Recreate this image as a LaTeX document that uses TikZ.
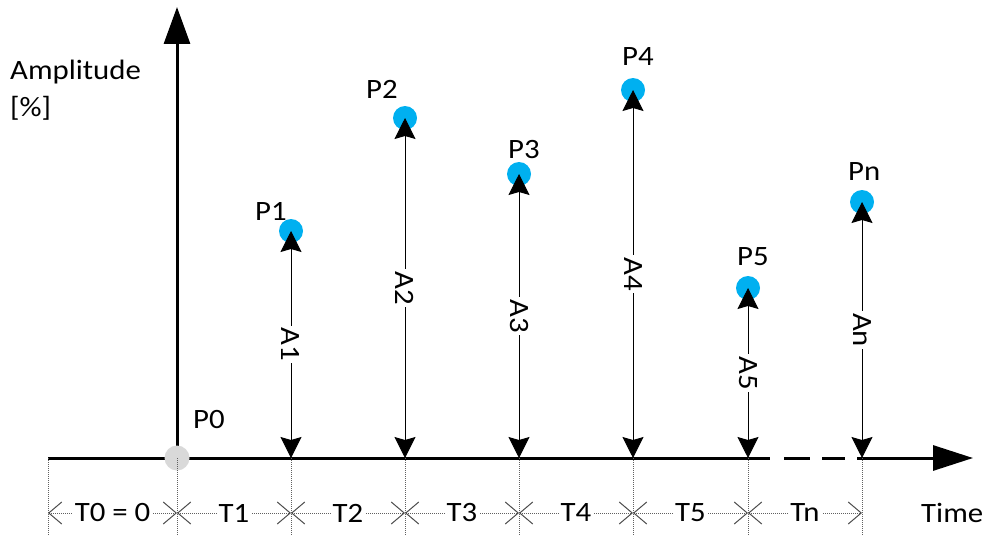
\documentclass[tikz,border=0pt]{standalone}
\usepackage{fontspec}
\setmainfont{Carlito}[FakeStretch=1.1]
\usetikzlibrary{arrows.meta}
\definecolor{pcyan}{HTML}{00B0F0}
\definecolor{pgray}{HTML}{D9D9D9}
\definecolor{guidegray}{HTML}{606060}
\begin{document}
\begin{tikzpicture}[x=1pt,y=-1pt,
  every node/.style={font=\fontsize{28}{33}\selectfont,text=black},
  lbl/.style={inner sep=0pt,anchor=base west},
  axisline/.style={line width=3pt,line cap=butt},
  pdot/.style={circle,fill=pcyan,minimum size=24pt,inner sep=0pt},
  zerodot/.style={circle,fill=pgray,minimum size=25pt,inner sep=0pt},
  ampl/.style={line width=1pt,{Stealth[length=21pt,width=21pt,inset=3pt]}-{Stealth[length=21pt,width=21pt,inset=3pt]}},
  alabel/.style={midway,rotate=-90,fill=white,inner sep=2pt},
  guide/.style={guidegray,line width=1pt,dash pattern=on 1pt off 1pt},
  dimline/.style={guidegray,line width=1pt,dash pattern=on 1pt off 1pt,
     {Straight Barb[length=13pt,width=22pt,line width=1pt,color=black!70]}-{Straight Barb[length=13pt,width=22pt,line width=1pt,color=black!70]}},
  tlabel/.style={midway,fill=white,inner sep=2pt,text=black}
]
\useasboundingbox (0,0) rectangle (985,535);

% base coordinates on the time axis
\coordinate (s) at (48,458);
\coordinate (b0) at (177,458);
\coordinate (b1) at (291,458);
\coordinate (b2) at (405,458);
\coordinate (b3) at (519,458);
\coordinate (b4) at (633,458);
\coordinate (b5) at (748,458);
\coordinate (bn) at (862,458);
\coordinate (solidend) at (770,458);
\coordinate (d1a) at (784,458);
\coordinate (d1b) at (810,458);
\coordinate (d2a) at (822,458);
\coordinate (d2b) at (845,458);
\coordinate (resume) at (857,458);
\coordinate (tend) at (973,458);
\coordinate (ytop) at (177,7);

% axes
\draw[axisline] (s) -- (solidend);
\draw[axisline] (d1a) -- (d1b);
\draw[axisline] (d2a) -- (d2b);
\draw[axisline,-{Triangle[length=40pt,width=25pt]}] (resume) -- (tend);
\draw[axisline,-{Triangle[length=37pt,width=26pt]}] (b0) -- (ytop);

% P0
\node[zerodot] (p0) at (b0) {};
\node[lbl] (p0l) at (193,428) {P0};

% guides
\foreach \g in {s,b0,b1,b2,b3,b4,b5,bn}{
  \coordinate (\g-low) at ([yshift=-77pt]\g);
  \draw[guide] (\g) -- (\g-low);
}

% points
\node[pdot] (p1) at (291,231) {};
\node[pdot] (p2) at (405,118) {};
\node[pdot] (p3) at (519,174) {};
\node[pdot] (p4) at (633,90) {};
\node[pdot] (p5) at (748,288) {};
\node[pdot] (pn) at (862,202) {};

\node[lbl] (p1l) at (255,220) {P1};
\node[lbl] (p2l) at (366,99) {P2};
\node[lbl] (p3l) at (508,158) {P3};
\node[lbl] (p4l) at (622,66) {P4};
\node[lbl] (p5l) at (737,265) {P5};
\node[lbl] (pnl) at (848,180) {Pn};

% amplitude arrows
\draw[ampl] (p1.center) -- (b1) node[alabel] {A1};
\draw[ampl] (p2.center) -- (b2) node[alabel] {A2};
\draw[ampl] (p3.center) -- (b3) node[alabel] {A3};
\draw[ampl] (p4.center) -- (b4) node[alabel] {A4};
\draw[ampl] (p5.center) -- (b5) node[alabel] {A5};
\draw[ampl] (pn.center) -- (bn) node[alabel] {An};

% time intervals
\coordinate (t0) at (48,513);
\coordinate (t1) at (177,513);
\coordinate (t2) at (291,513);
\coordinate (t3) at (405,513);
\coordinate (t4) at (519,513);
\coordinate (t5) at (633,513);
\coordinate (t6) at (748,513);
\coordinate (t7) at (862,513);
\draw[dimline] (t0) -- (t1) node[tlabel] {T0 = 0};
\draw[dimline] (t1) -- (t2) node[tlabel] {T1};
\draw[dimline] (t2) -- (t3) node[tlabel] {T2};
\draw[dimline] (t3) -- (t4) node[tlabel] {T3};
\draw[dimline] (t4) -- (t5) node[tlabel] {T4};
\draw[dimline] (t5) -- (t6) node[tlabel] {T5};
\draw[dimline] (t6) -- (t7) node[tlabel] {Tn};

% axis labels
\node[lbl] (amp) at (10,79) {Amplitude};
\node[lbl] (pct) at (10,116) {[\%]};
\node[lbl] (time) at (921,522) {Time};
\end{tikzpicture}
\end{document}
